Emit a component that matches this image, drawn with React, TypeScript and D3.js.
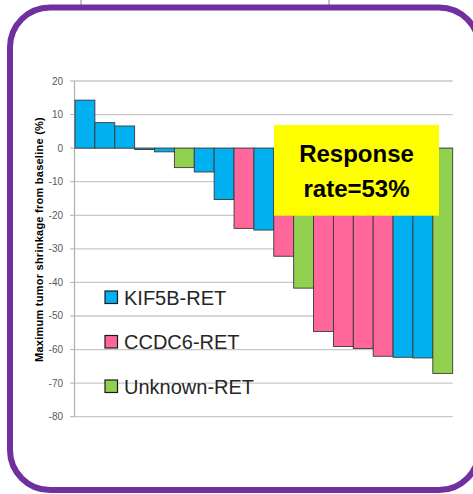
import React from "react";
import * as d3 from "d3";

const patients = ["P1","P2","P3","P4","P5","P6","P7","P8","P9","P10","P11","P12","P13","P14","P15","P16","P17","P18","P19"];
const shrinkage = [14.3, 7.6, 6.6, -0.4, -1.1, -5.8, -7.1, -15.3, -23.9, -24.4, -32.2, -41.7, -54.6, -59.1, -59.7, -62.0, -62.3, -62.5, -67.1];
const fusion = ["KIF5B","KIF5B","KIF5B","KIF5B","KIF5B","Unknown","KIF5B","KIF5B","CCDC6","KIF5B","CCDC6","Unknown","CCDC6","CCDC6","CCDC6","CCDC6","KIF5B","KIF5B","Unknown"];
const yTicks = [20, 10, 0, -10, -20, -30, -40, -50, -60, -70, -80];
const legendKeys = ["KIF5B", "CCDC6", "Unknown"];
const legendLabels = ["KIF5B-RET", "CCDC6-RET", "Unknown-RET"];

const colorMap: Record<string, string> = {
  KIF5B: "#00B0F0",
  CCDC6: "#FF6699",
  Unknown: "#92D050",
};

export default function App() {
  const W = 473, H = 494;
  const y = d3.scaleLinear().domain([-80, 20]).range([416.7, 81]);
  const x = d3.scaleBand<string>().domain(patients).range([75, 452.7]).padding(0);
  const font = "'Liberation Sans', Arial, sans-serif";

  return (
    <svg width={W} height={H} style={{ position: "absolute", left: 0, top: 0 }} fontFamily={font}>
      <rect x={0} y={0} width={W} height={H} fill="#fff" />
      <line x1={81} x2={81} y1={0} y2={6} stroke="#888" strokeWidth={1} />
      <line x1={329} x2={329} y1={0} y2={6} stroke="#888" strokeWidth={1} />
      <rect x={10} y={7.5} width={469} height={482.5} rx={40} ry={40} fill="#fff" stroke="#7030A0" strokeWidth={6} />

      {yTicks.map((t) => (
        <g key={t}>
          <line x1={74} x2={452.7} y1={y(t)} y2={y(t)} stroke="#C8C8C8" strokeWidth={1.3} />
          <line x1={70} x2={74} y1={y(t)} y2={y(t)} stroke="#B0B0B0" strokeWidth={1} />
          <text x={63} y={y(t)} dy="0.35em" textAnchor="end" fontSize={10} fill="#595959">{t}</text>
        </g>
      ))}
      <line x1={74.5} x2={74.5} y1={y(20)} y2={y(-80)} stroke="#B0B0B0" strokeWidth={1.2} />

      {patients.map((p, i) => {
        const v = shrinkage[i];
        const y0 = y(Math.max(0, v));
        const y1 = y(Math.min(0, v));
        return (
          <rect key={p} x={x(p)!} y={y0} width={x.bandwidth()} height={Math.max(0.8, y1 - y0)}
            fill={colorMap[fusion[i]]} stroke="#3a3a3a" strokeWidth={0.9} />
        );
      })}

      <text transform={`translate(42.5,239.5) rotate(-90)`} textAnchor="middle" fontSize={11} letterSpacing={0.25} fontWeight="bold" fill="#000">
        Maximum tumor shrinkage from baseline (%)
      </text>

      {legendKeys.map((k, i) => {
        const yy = 291 + i * 44.5;
        return (
          <g key={k}>
            <rect x={105} y={yy} width={12.5} height={12.5} fill={colorMap[k]} stroke="#1a1a1a" strokeWidth={1.2} />
            <text x={124} y={yy + 13.5} fontSize={20} fill="#262626">{legendLabels[i]}</text>
          </g>
        );
      })}

      <rect x={274} y={125} width={165} height={90.7} fill="#FFFF00" />
      <text x={356.5} y={161.7} textAnchor="middle" fontSize={24} fontWeight="bold" fill="#000">Response</text>
      <text x={356.5} y={196.7} textAnchor="middle" fontSize={24} fontWeight="bold" fill="#000">rate=53%</text>
    </svg>
  );
}
